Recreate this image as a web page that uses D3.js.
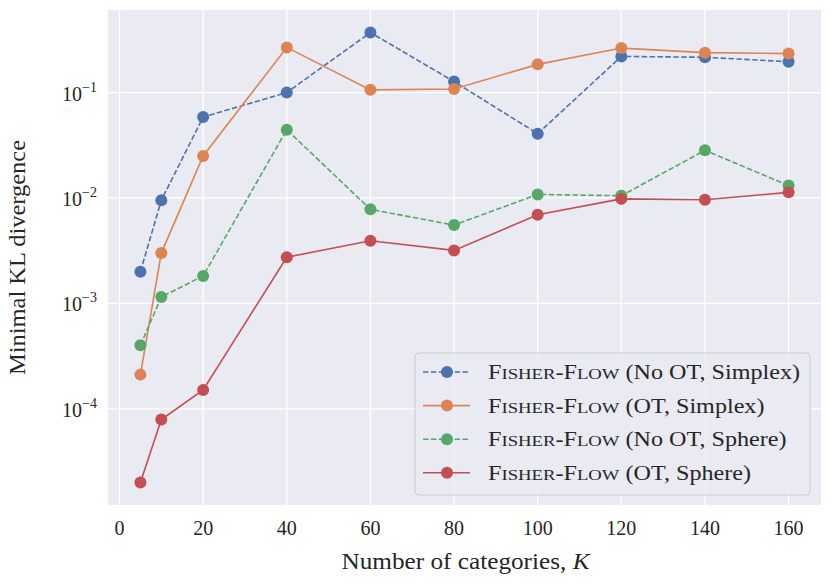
<!DOCTYPE html>
<html>
<head>
<meta charset="utf-8">
<script src="https://cdn.jsdelivr.net/npm/d3@7"></script>
<style>
  body { margin: 0; background: #fff; }
  text { font-family: "Liberation Serif", "DejaVu Serif", serif; fill: #262626; }
</style>
</head>
<body>
<div id="chart"></div>
<script>
// data
const categories = [5, 10, 20, 40, 60, 80, 100, 120, 140, 160];
const noOtSimplex = [0.002, 0.0095, 0.0585, 0.1, 0.371, 0.127, 0.0407, 0.22, 0.216, 0.196];
const otSimplex = [0.000211, 0.003, 0.025, 0.268, 0.106, 0.108, 0.185, 0.264, 0.239, 0.234];
const noOtSphere = [0.0004, 0.00115, 0.00182, 0.0444, 0.0078, 0.00553, 0.0108, 0.0105, 0.0283, 0.0131];
const otSphere = [0.00002, 0.000079, 0.000151, 0.00274, 0.00393, 0.00318, 0.00692, 0.0098, 0.0096, 0.0113];
const xTicks = [0, 20, 40, 60, 80, 100, 120, 140, 160];
const yTicks = [1e-4, 1e-3, 1e-2, 1e-1];
const seriesNames = ["(No OT, Simplex)", "(OT, Simplex)", "(No OT, Sphere)", "(OT, Sphere)"];

const series = [
  { name: seriesNames[0], values: noOtSimplex, color: "#4C72B0", dashed: true },
  { name: seriesNames[1], values: otSimplex, color: "#DD8452", dashed: false },
  { name: seriesNames[2], values: noOtSphere, color: "#55A868", dashed: true },
  { name: seriesNames[3], values: otSphere, color: "#C44E52", dashed: false },
];

const W = 831, H = 583;
const margin = { top: 10, right: 10, bottom: 78, left: 108 };
const width = W - margin.left - margin.right,
  height = H - margin.top - margin.bottom;

const svg = d3.select("#chart").append("svg")
  .attr("width", W).attr("height", H);
const g = svg.append("g")
  .attr("transform", `translate(${margin.left},${margin.top})`);

// matplotlib style 5% margins
const xPad = (160 - 5) * 0.05;
const x = d3.scaleLinear().domain([5 - xPad, 160 + xPad]).range([0, width]);
const allVals = series.flatMap(s => s.values);
const lo = Math.log10(d3.min(allVals)), hi = Math.log10(d3.max(allVals));
const yPad = (hi - lo) * 0.05;
const y = d3.scaleLog().domain([10 ** (lo - yPad), 10 ** (hi + yPad)]).range([height, 0]);

// the reference font (Computer Modern) is wider than the serif we have,
// so stretch a text to the width it has there
const stretchTo = (sel, w) => {
  sel.attr("textLength", w).attr("lengthAdjust", "spacingAndGlyphs");
};

// background + grid
g.append("rect").attr("width", width).attr("height", height).attr("fill", "#EAEAF2");
g.append("g").selectAll("line").data(xTicks).join("line")
  .attr("x1", d => x(d)).attr("x2", d => x(d))
  .attr("y1", 0).attr("y2", height)
  .attr("stroke", "#fff").attr("stroke-width", 1.3);
g.append("g").selectAll("line").data(yTicks).join("line")
  .attr("x1", 0).attr("x2", width)
  .attr("y1", d => y(d)).attr("y2", d => y(d))
  .attr("stroke", "#fff").attr("stroke-width", 1.3);

// x tick labels
g.append("g").selectAll("text").data(xTicks).join("text")
  .attr("x", d => x(d)).attr("y", height + 30)
  .attr("text-anchor", "middle")
  .style("font-size", "20px")
  .text(d => d);

// y tick labels as 10^n
const yLab = g.append("g").selectAll("text").data(yTicks).join("text")
  .attr("x", -11).attr("y", d => y(d) + 8)
  .attr("text-anchor", "end")
  .style("font-size", "20px");
yLab.append("tspan").text("10");
yLab.append("tspan")
  .attr("dy", -9)
  .style("font-size", "14px")
  .text(d => "\u2212" + Math.round(-Math.log10(d)));

// axis labels
svg.append("text")
  .attr("x", margin.left + width / 2 + 1).attr("y", 569)
  .attr("text-anchor", "middle")
  .style("font-size", "23px")
  .html('Number of categories, <tspan font-style="italic">K</tspan>')
  .call(stretchTo, 248);
svg.append("text")
  .attr("transform", `translate(25,${margin.top + height / 2}) rotate(-90)`)
  .attr("text-anchor", "middle")
  .style("font-size", "23px")
  .text("Minimal KL divergence")
  .call(stretchTo, 235);

// lines + markers
const line = d3.line().x((d, i) => x(categories[i])).y(d => y(d));
series.forEach(s => {
  g.append("path")
    .datum(s.values)
    .attr("d", line)
    .attr("fill", "none")
    .attr("stroke", s.color)
    .attr("stroke-width", 1.6)
    .attr("stroke-dasharray", s.dashed ? "5.5,2.4" : null);
  g.append("g").selectAll("circle").data(s.values).join("circle")
    .attr("cx", (d, i) => x(categories[i]))
    .attr("cy", d => y(d))
    .attr("r", 6)
    .attr("fill", s.color);
});

// legend
const lg = svg.append("g").attr("transform", "translate(415,353)");
lg.append("rect")
  .attr("width", 395).attr("height", 142)
  .attr("rx", 4)
  .attr("fill", "#EAEAF2").attr("fill-opacity", 0.8)
  .attr("stroke", "#cccccc");
const labels = [];
series.forEach((s, i) => {
  const row = lg.append("g").attr("transform", `translate(0,${19 + i * 33.6})`);
  row.append("line")
    .attr("x1", 8).attr("x2", 55)
    .attr("stroke", s.color).attr("stroke-width", 1.6)
    .attr("stroke-dasharray", s.dashed ? "5.5,2.4" : null);
  row.append("circle").attr("cx", 32).attr("r", 6).attr("fill", s.color);
  const t = row.append("text").attr("x", 73).attr("y", 7).style("font-size", "20px");
  // hand made small caps: F..., F... full size, the rest smaller
  ["Fisher", "-", "Flow"].forEach(w => {
    if (w === "-") { t.append("tspan").text("-"); return; }
    t.append("tspan").text(w[0]);
    t.append("tspan").style("font-size", "15.5px").text(w.slice(1).toUpperCase());
  });
  t.append("tspan").text(" " + s.name);
  labels.push(t);
});
// first row is 312px wide in the reference, scale all rows alike
const k = 312 / labels[0].node().getComputedTextLength();
labels.forEach(t => t.call(stretchTo, t.node().getComputedTextLength() * k));
</script>
</body>
</html>
